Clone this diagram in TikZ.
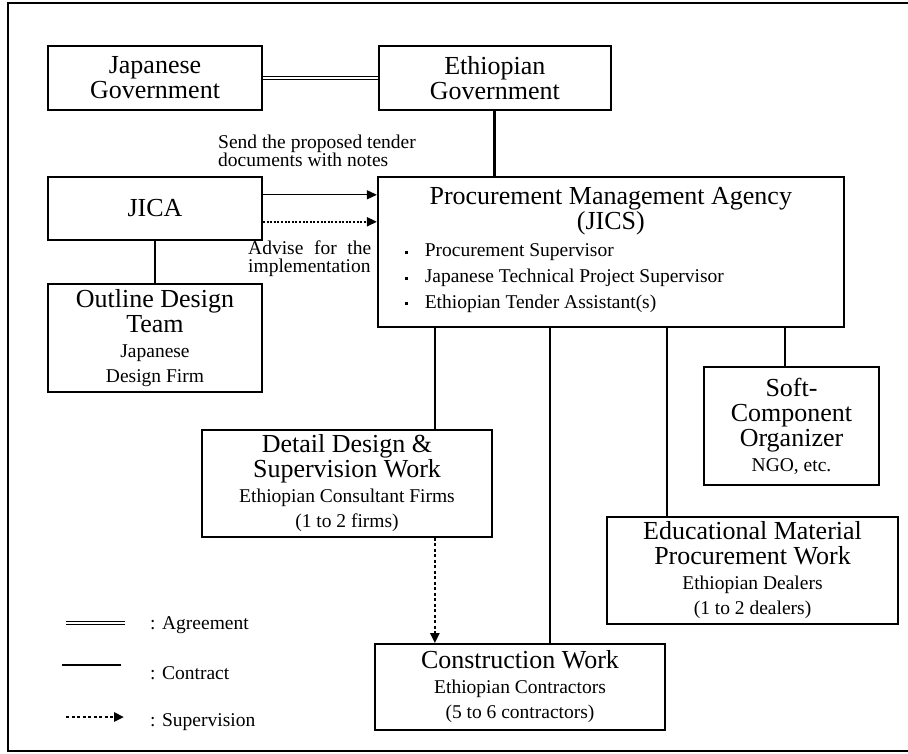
\documentclass[tikz,border=0pt]{standalone}
\usepackage{fontspec}
\setmainfont{Liberation Serif}
\usepackage{tikz}
\usetikzlibrary{arrows.meta, positioning}

\newcommand{\mainf}{\fontsize{26}{25}\selectfont}
\newcommand{\subf}{\fontsize{19.5}{20}\selectfont}
\newcommand{\sqbullet}{\rule[3pt]{3pt}{3pt}}

\begin{document}
\begin{tikzpicture}[>={Triangle[length=10pt,width=9pt]}, x=1pt, y=1pt]
	\tikzstyle{org} = [draw, line width=1.8pt, align=center, font=\mainf, inner sep=3pt]
	\tikzstyle{note} = [align=left, font=\subf, inner sep=0pt]
	\tikzstyle{agreement} = [double, line width=1pt, double distance=2pt]
	\tikzstyle{contract} = [line width=2.8pt]
	\tikzstyle{supervision} = [->, line width=2.6pt, dash pattern=on 3pt off 2.5pt]

	\useasboundingbox (0,0) rectangle (908,-753);
	\draw[line width=1.5pt] (908,-3) -- (8,-3) -- (8,-751) -- (908,-751);

	\node[org, minimum width=214pt, minimum height=64pt] (jpgov) at (155,-78) {Japanese\\Government};
	\node[org, minimum width=232pt, minimum height=64pt] (etgov) [right=115pt of jpgov] {Ethiopian\\Government};
	\node[org, minimum width=214pt, minimum height=63pt] (jica) [below=65pt of jpgov] {JICA};
	\node[org, minimum width=214pt, minimum height=108pt] (outline) [below=42pt of jica] {Outline Design\\Team\\\subf Japanese\\\subf Design Firm};
	\node[org, minimum width=466pt, minimum height=150pt] (pma) [right=114pt of jica.north east, anchor=north west]
		{Procurement Management Agency\\(JICS)\\[2pt]
		\subf\def\arraystretch{1.28}\makebox[450pt][l]{\hspace{19pt}\begin{tabular}[t]{@{}l@{\hspace{17pt}}l@{}}
		\sqbullet & Procurement Supervisor\\
		\sqbullet & Japanese Technical Project Supervisor\\
		\sqbullet & Ethiopian Tender Assistant(s)
		\end{tabular}}};
	\node[org, minimum width=290pt, minimum height=107pt] (detail) at (347,-483.5) {Detail Design \&\\Supervision Work\\\subf Ethiopian Consultant Firms\\\subf (1 to 2 firms)};
	\node[org, minimum width=175pt, minimum height=118pt] (soft) at (791.5,-426) {Soft-\\Component\\Organizer\\\subf NGO, etc.};
	\node[org, minimum width=291pt, minimum height=107pt] (edu) at (752.5,-570.5) {Educational Material\\Procurement Work\\\subf Ethiopian Dealers\\\subf (1 to 2 dealers)};
	\node[org, minimum width=290pt, minimum height=86pt] (constr) at (520,-687) {Construction Work\\\subf Ethiopian Contractors\\\subf (5 to 6 contractors)};

	% notes on the JICA arrows
	\node[note, anchor=north west, font=\fontsize{19.5}{18}\selectfont] (send) at (218,-135) {Send the proposed tender\\documents with notes};
	\node[note, anchor=north west, text width=123pt, font=\fontsize{19.5}{18}\selectfont] (advise) at (248,-241) {Advise\hfill for\hfill the\\implementation};

	% legend
	\node[note, anchor=west] (lagree) at (150,-625) {: Agreement};
	\node[note, anchor=west] (lcontract) at (150,-673) {: Contract};
	\node[note, anchor=west] (lsuper) at (150,-722) {: Supervision};

	\coordinate (t1) at ([xshift=58pt]pma.south west);
	\coordinate (t2) at ([xshift=173pt]pma.south west);
	\coordinate (t3) at ([xshift=290pt]pma.south west);
	\coordinate (t4) at ([xshift=408pt]pma.south west);

	\draw[agreement] (jpgov) -- (etgov);
	\draw[contract] (etgov.south) -- (etgov.south |- pma.north);
	\draw[contract] (jica) -- (outline);
	\draw[->, line width=1.3pt] ([yshift=13.5pt]jica.east) -- ([yshift=13.5pt]jica.east -| pma.west);
	\draw[->, line width=2pt, dash pattern=on 2pt off 1.6pt] ([yshift=-13.5pt]jica.east) -- ([yshift=-13.5pt]jica.east -| pma.west);
	\draw[contract] (t1) -- (t1 |- detail.north);
	\draw[contract] (t2) -- (t2 |- constr.north);
	\draw[contract] (t3) -- (t3 |- edu.north);
	\draw[contract] (t4) -- (t4 |- soft.north);
	\draw[supervision] (t1 |- detail.south) -- (t1 |- constr.north);

	\draw[agreement] ([xshift=-84pt,yshift=2pt]lagree.west) -- ([xshift=-25pt,yshift=2pt]lagree.west);
	\draw[contract] ([xshift=-88pt,yshift=8pt]lcontract.west) -- ([xshift=-29pt,yshift=8pt]lcontract.west);
	\draw[supervision] ([xshift=-84pt,yshift=5pt]lsuper.west) -- ([xshift=-26pt,yshift=5pt]lsuper.west);
\end{tikzpicture}
\end{document}
